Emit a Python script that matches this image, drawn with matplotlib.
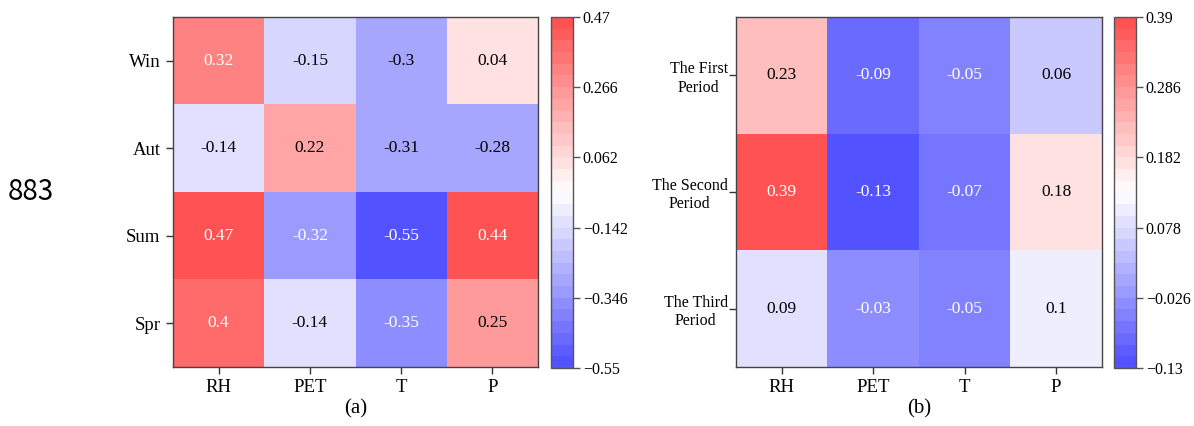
import matplotlib
matplotlib.use("Agg")
import matplotlib.pyplot as plt
import numpy as np
from matplotlib.colors import ListedColormap, Normalize

plt.rcParams['font.family'] = ['Liberation Serif', 'DejaVu Serif']

# data
factors = ['RH', 'PET', 'T', 'P']
seasons = ['Win', 'Aut', 'Sum', 'Spr']
season_vals = [[0.32, -0.15, -0.3, 0.04],
               [-0.14, 0.22, -0.31, -0.28],
               [0.47, -0.32, -0.55, 0.44],
               [0.4, -0.14, -0.35, 0.25]]
periods = ['The First\nPeriod', 'The Second\nPeriod', 'The Third\nPeriod']
period_vals = [[0.23, -0.09, -0.05, 0.06],
               [0.39, -0.13, -0.07, 0.18],
               [0.09, -0.03, -0.05, 0.1]]

# bwr drawn at 0.7 alpha on white, cut into 30 steps
base = plt.get_cmap('bwr')((np.arange(30) + 0.5) / 30)[:, :3]
cmap = ListedColormap(0.7 * base + 0.3)


def lum(c):
    c = np.where(c <= 0.03928, c / 12.92, ((c + 0.055) / 1.055) ** 2.4)
    return 0.2126 * c[0] + 0.7152 * c[1] + 0.0722 * c[2]


def heat(ax, cax, vals, rows, label, ysize, ypad):
    vals = np.array(vals)
    vmin, vmax = vals.min(), vals.max()
    norm = Normalize(vmin, vmax)
    mesh = ax.pcolormesh(vals, cmap=cmap, norm=norm)
    ax.set_xlim(0, vals.shape[1])
    ax.set_ylim(vals.shape[0], 0)
    for i in range(vals.shape[0]):
        for j in range(vals.shape[1]):
            col = cmap(norm(vals[i, j]))[:3]
            tc = 'black' if lum(np.array(col)) > 0.408 else 'white'
            ax.text(j + 0.5, i + 0.5, f'{vals[i, j]:g}', ha='center', va='center',
                    fontsize=12.5, color=tc)
    ax.set_xticks(np.arange(vals.shape[1]) + 0.5)
    ax.set_xticklabels(factors, fontsize=13.5)
    ax.set_yticks(np.arange(vals.shape[0]) + 0.5)
    ax.set_yticklabels(rows, fontsize=ysize, multialignment='center')
    ax.tick_params(length=5, width=1, color='#333333', pad=4)
    ax.tick_params(axis='y', pad=ypad)
    for s in ax.spines.values():
        s.set_color('#444444')
        s.set_linewidth(1)
    ax.set_xlabel(label, fontsize=15, labelpad=2)

    cb = plt.colorbar(mesh, cax=cax)
    ticks = np.linspace(vmin, vmax, 6)
    cb.set_ticks(ticks)
    cb.set_ticklabels([f'{round(t, 3):g}'.replace('-', '\u2212') for t in ticks])
    cb.ax.tick_params(labelsize=11.5, length=5, width=1, color='#555555', pad=2)
    cb.outline.set_edgecolor('#555555')
    cb.outline.set_linewidth(1)


fig = plt.figure(figsize=(11.94, 4.26), dpi=100)
ax1 = fig.add_axes([0.1449, 0.1385, 0.3057, 0.8216])
cax1 = fig.add_axes([0.4615, 0.1362, 0.0184, 0.8239])
ax2 = fig.add_axes([0.6164, 0.1385, 0.3065, 0.8216])
cax2 = fig.add_axes([0.9330, 0.1362, 0.0184, 0.8239])

heat(ax1, cax1, season_vals, seasons, '(a)', 13.5, 4)
heat(ax2, cax2, period_vals, periods, '(b)', 11.5, 1)

fig.text(0.026, 0.55, '883', fontsize=20, family=['Noto Sans CJK SC', 'DejaVu Sans'],
         ha='center', va='center')

fig.savefig('out.png', dpi=100)
